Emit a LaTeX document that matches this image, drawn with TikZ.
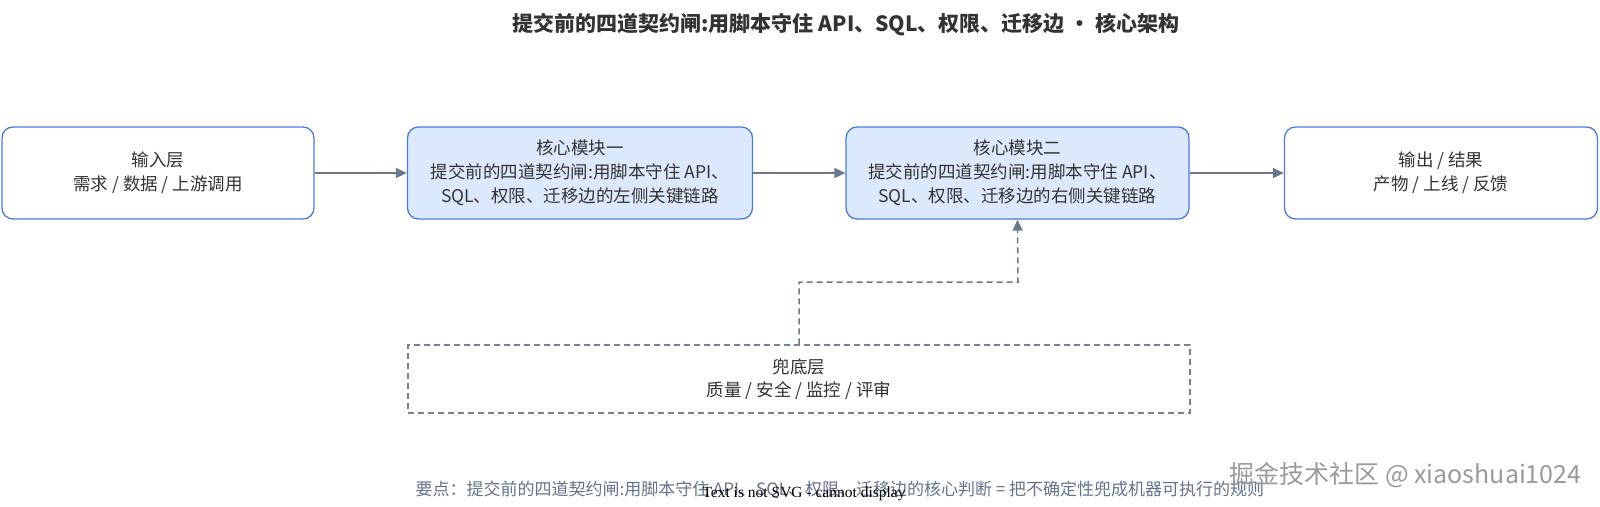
\documentclass[tikz,border=0pt]{standalone}
\usepackage{fontspec}
\setmainfont{Noto Sans CJK SC}
\newfontfamily\serifnote{Liberation Serif}
\usetikzlibrary{arrows.meta}
\definecolor{boxblue}{HTML}{4A7CD8}
\definecolor{boxfill}{HTML}{DCE8FC}
\definecolor{txt}{HTML}{333333}
\definecolor{arrowgray}{HTML}{6B778C}
\definecolor{dashgray}{HTML}{7A8290}
\definecolor{notegray}{HTML}{64748B}
\definecolor{wmgray}{HTML}{9A9A9A}
\tikzset{
  x=1pt, y=-1pt,
  plainbox/.style={draw=boxblue, line width=1.3pt, rounded corners=11pt, fill=white,
    text=txt, font=\fontsize{17.5}{24}\selectfont, align=center, inner sep=0pt},
  corebox/.style={plainbox, fill=boxfill},
  safebox/.style={draw=dashgray, line width=1.2pt, dash pattern=on 6pt off 4pt, fill=white,
    text=txt, font=\fontsize{17.5}{23}\selectfont, align=center, inner sep=0pt},
  flow/.style={draw=arrowgray, line width=1.5pt, -{Triangle[length=11pt,width=10pt]}},
  dflow/.style={flow, dash pattern=on 6pt off 4pt},
}
\begin{document}
\begin{tikzpicture}
\useasboundingbox (0,0) rectangle (1600,506);
\node[font=\bfseries\fontsize{21}{24}\selectfont, text=txt] (title) at (846,25) {提交前的四道契约闸:用脚本守住 API、SQL、权限、迁移边 · 核心架构};
\node[plainbox, minimum width=312pt, minimum height=92pt] (in) at (158,173) {输入层\\需求 / 数据 / 上游调用};
\node[corebox, minimum width=345pt, minimum height=92pt] (c1) at (580,173) {核心模块一\\提交前的四道契约闸:用脚本守住 API、\\SQL、权限、迁移边的左侧关键链路};
\node[corebox, minimum width=343pt, minimum height=92pt] (c2) at (1017.5,173) {核心模块二\\提交前的四道契约闸:用脚本守住 API、\\SQL、权限、迁移边的右侧关键链路};
\node[plainbox, minimum width=313pt, minimum height=92pt] (out) at (1441,173) {输出 / 结果\\产物 / 上线 / 反馈};
\node[safebox, minimum width=782pt, minimum height=68pt] (safe) at (799,379) {兜底层\\质量 / 安全 / 监控 / 评审};
\draw[flow] (in.east) -- (c1.west);
\draw[flow] (c1.east) -- (c2.west);
\draw[flow] (c2.east) -- (out.west);
\coordinate (k1) at (799,282);
\coordinate (k2) at (1018,282);
\draw[dflow] (safe.north) -- (k1) -- (k2) -- (c2.south);
\node[anchor=west, text=notegray, font=\fontsize{17}{19}\selectfont] (note) at (412,490) {要点：提交前的四道契约闸:用脚本守住 API、SQL、权限、迁移边的核心判断 = 把不确定性兜成机器可执行的规则};
\node[anchor=west, text=black, font=\serifnote\fontsize{15.5}{17}\selectfont] (err) at (699,494) {Text is not SVG - cannot display};
\node[anchor=east, text=wmgray, font=\fontsize{25}{28}\selectfont] (wm) at (1585,475) {掘金技术社区 @ xiaoshuai1024};
\end{tikzpicture}
\end{document}
